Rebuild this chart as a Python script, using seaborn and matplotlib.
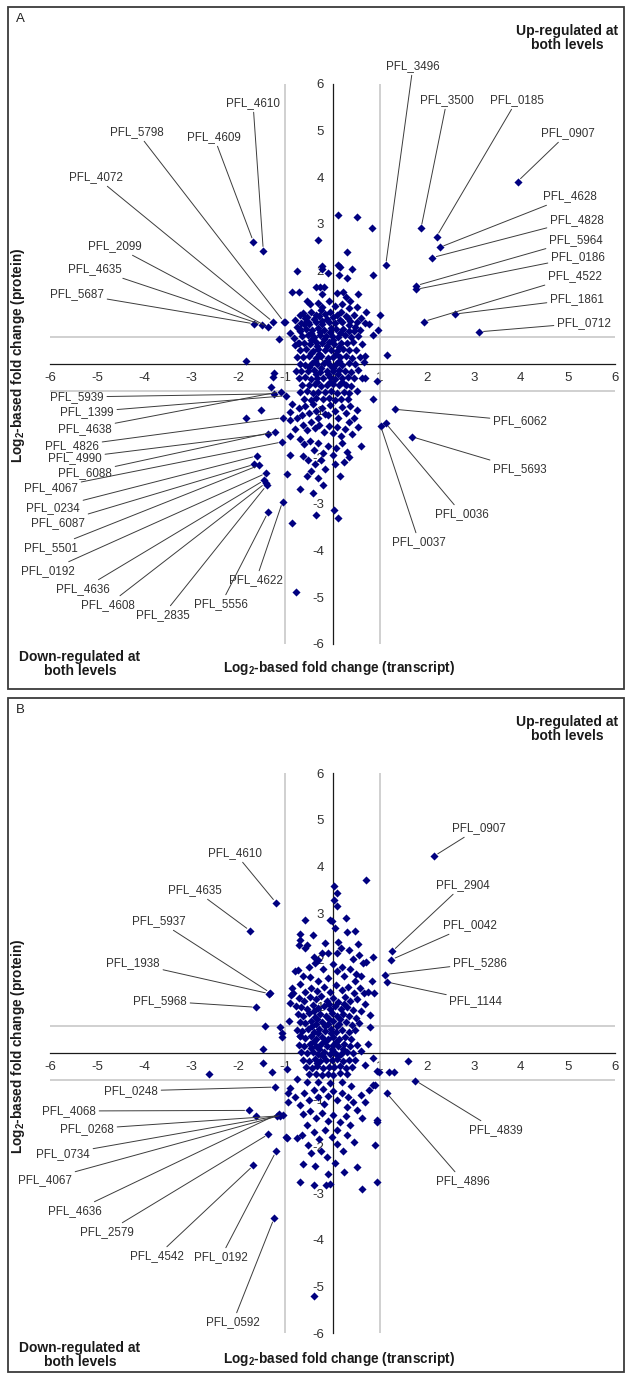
import matplotlib
matplotlib.use("Agg")
import matplotlib.pyplot as plt
from matplotlib.patches import Rectangle
import numpy as np
import seaborn as sns

W, H = 628, 1374
NAVY = "#000080"

# ---------------- panel A ----------------
A_GENES = ["PFL_3496", "PFL_3500", "PFL_0185", "PFL_0907", "PFL_4628", "PFL_4828",
           "PFL_5964", "PFL_0186", "PFL_4522", "PFL_1861", "PFL_0712",
           "PFL_4610", "PFL_4609", "PFL_5798", "PFL_4072", "PFL_2099", "PFL_4635",
           "PFL_5687", "PFL_5939", "PFL_1399", "PFL_4638", "PFL_4826", "PFL_4990",
           "PFL_6088", "PFL_4067", "PFL_0234", "PFL_6087", "PFL_5501", "PFL_0192",
           "PFL_4636", "PFL_4608", "PFL_2835", "PFL_5556", "PFL_4622",
           "PFL_6062", "PFL_5693", "PFL_0036", "PFL_0037"]
A_GENE_X = [1.13, 1.88, 2.21, 3.93, 2.28, 2.12, 1.78, 1.78, 1.94, 2.60, 3.12,
            -1.47, -1.68, -1.03, -1.26, -1.37, -1.49, -1.66, -1.24, -0.99, -1.10,
            -1.05, -1.37, -1.22, -1.07, -1.61, -1.66, -1.56, -1.41, -1.45, -1.42,
            -1.40, -1.37, -1.06, 1.32, 1.69, 1.13, 1.02]
A_GENE_Y = [2.12, 2.91, 2.73, 3.91, 2.50, 2.28, 1.68, 1.60, 0.91, 1.07, 0.69,
            2.43, 2.62, 0.90, 0.90, 0.79, 0.84, 0.86, -0.64, -0.68, -0.59,
            -1.15, -1.50, -1.45, -1.67, -1.97, -2.15, -2.17, -2.34, -2.49, -2.55,
            -2.60, -3.18, -2.95, -0.97, -1.56, -1.27, -1.32]

A_CLOUD = [
    (0.12, 3.20), (0.53, 3.15), (0.83, 2.91), (-0.30, 2.66), (0.30, 2.41), (-0.23, 2.11),
    (-0.22, 2.04), (0.12, 2.12), (0.16, 2.08), (0.41, 2.04), (-0.75, 2.00), (-0.09, 1.95),
    (0.14, 1.90), (0.30, 1.85), (0.86, 1.91), (-0.35, 1.66), (-0.26, 1.66), (-0.19, 1.66),
    (-0.86, 1.54), (-0.72, 1.54), (-0.23, 1.49), (0.09, 1.52), (0.23, 1.54), (0.29, 1.44),
    (0.55, 1.50), (0.37, 1.34), (-0.55, 1.36), (-0.48, 1.28), (-0.30, 1.30), (-0.22, 1.22),
    (-0.08, 1.35), (0.05, 1.25), (0.20, 1.28), (0.35, 1.20), (0.52, 1.22), (0.72, 1.11),
    (1.01, 1.05), (0.97, 0.73), (-1.01, 0.91), (-0.90, 0.67), (-1.13, 0.54),
    (-0.70, 1.05), (-0.62, 1.10), (-0.55, 1.00), (-0.45, 1.12), (-0.35, 1.05), (-0.25, 1.15),
    (-0.15, 1.08), (-0.05, 1.12), (0.10, 1.05), (0.18, 1.12), (0.28, 1.02), (0.45, 1.05),
    (0.60, 0.98), (0.68, 0.88), (0.48, 0.80), (0.38, 0.92), (0.58, 0.72), (0.78, 0.85),
    (0.85, 0.62), (-0.80, 0.95), (-0.75, 0.80), (-0.68, 0.70), (-0.60, 0.85), (-0.52, 0.90),
    (-0.82, 0.55), (-0.72, 0.45),
    (-0.58, 0.98), (-0.40, 0.96), (-0.28, 1.02), (-0.12, 0.97), (0.02, 1.00), (0.15, 0.95),
    (0.32, 0.98), (-0.66, 0.88), (-0.50, 0.85), (-0.36, 0.90), (-0.22, 0.86), (-0.08, 0.91),
    (0.06, 0.87), (0.20, 0.89), (0.36, 0.84), (0.52, 0.90), (-0.70, 0.74), (-0.56, 0.76),
    (-0.44, 0.72), (-0.30, 0.77), (-0.18, 0.73), (-0.04, 0.78), (0.08, 0.74), (0.22, 0.76),
    (0.34, 0.71), (0.46, 0.70), (-0.64, 0.60), (-0.52, 0.62), (-0.40, 0.58), (-0.26, 0.63),
    (-0.14, 0.59), (-0.02, 0.61), (0.12, 0.58), (0.26, 0.62), (0.40, 0.57), (0.55, 0.60),
    (-0.74, 0.44), (-0.60, 0.46), (-0.48, 0.43), (-0.34, 0.48), (-0.22, 0.45), (-0.08, 0.47),
    (0.04, 0.42), (0.18, 0.46), (0.30, 0.44), (0.44, 0.47), (0.62, 0.42), (-0.68, 0.30),
    (-0.56, 0.32), (-0.42, 0.28), (-0.30, 0.33), (-0.16, 0.29), (-0.04, 0.31), (0.10, 0.27),
    (0.22, 0.32), (0.36, 0.29), (0.50, 0.30), (-0.76, 0.16), (-0.62, 0.14), (-0.50, 0.18),
    (-0.36, 0.13), (-0.24, 0.17), (-0.10, 0.12), (0.02, 0.16), (0.16, 0.14), (0.28, 0.18),
    (0.42, 0.12), (0.58, 0.16), (-0.70, 0.01), (-0.58, -0.02), (-0.44, 0.03), (-0.32, -0.01),
    (-0.18, 0.02), (-0.06, -0.03), (0.08, 0.01), (0.20, -0.02), (0.34, 0.03), (0.48, -0.01),
    (0.66, 0.04), (-0.66, -0.14), (-0.52, -0.16), (-0.40, -0.13), (-0.26, -0.17), (-0.12, -0.14),
    (0.00, -0.16), (0.14, -0.13), (0.26, -0.15), (0.40, -0.17), (0.54, -0.12), (-0.72, -0.30),
    (-0.58, -0.28), (-0.46, -0.32), (-0.32, -0.29), (-0.20, -0.31), (-0.06, -0.28), (0.06, -0.33),
    (0.20, -0.30), (0.32, -0.27), (0.46, -0.31), (0.62, -0.29), (-0.64, -0.44), (-0.50, -0.46),
    (-0.38, -0.43), (-0.24, -0.47), (-0.12, -0.45), (0.02, -0.42), (0.14, -0.46), (0.28, -0.44),
    (0.40, -0.48), (-0.68, -0.60), (-0.54, -0.58), (-0.42, -0.62), (-0.30, -0.59), (-0.16, -0.61),
    (-0.04, -0.57), (0.10, -0.62), (0.24, -0.59), (0.36, -0.63), (0.52, -0.58), (-0.60, -0.74),
    (-0.46, -0.77), (-0.34, -0.73), (-0.20, -0.76), (-0.08, -0.72), (0.06, -0.77), (0.18, -0.74),
    (0.32, -0.76), (-0.45, 0.52), (-0.33, 0.38), (-0.19, 0.53), (-0.11, 0.38), (0.00, 0.52),
    (0.14, 0.37), (-0.28, 0.22), (-0.46, 0.23), (0.07, 0.22), (-0.38, 0.07), (-0.12, 0.06),
    (0.14, 0.07), (-0.25, -0.08), (0.00, -0.08), (-0.50, -0.07), (-0.35, -0.22), (-0.10, -0.22),
    (0.12, -0.22), (-0.26, 0.68), (-0.06, 0.68), (0.16, 0.67), (-0.45, 0.66), (-0.33, -0.38),
    (-0.05, -0.38), (0.20, -0.38), (-0.22, 0.93), (0.70, -0.30), (0.68, 0.18), (-0.80, 0.40),
    (-0.78, -0.15),
    (-1.25, -0.20), (-1.26, -0.27), (-1.31, -0.49), (-1.52, -0.99), (-1.83, -1.15), (-1.83, 0.07),
    (1.15, 0.19), (0.95, -0.36), (0.86, -0.74), (0.51, -0.99), (0.55, -1.35), (-0.90, -1.02),
    (-0.90, -1.20), (-0.90, -1.95), (-0.97, -2.35), (-0.69, -2.68), (-0.41, -2.76), (-0.35, -3.23),
    (0.04, -3.13), (0.12, -3.30), (-0.86, -3.40), (-0.77, -4.89),
    (-0.85, -0.85), (-0.72, -0.95), (-0.65, -1.10), (-0.58, -0.90), (-0.50, -1.05), (-0.42, -0.85),
    (-0.35, -1.00), (-0.30, -1.15), (-0.22, -0.95), (-0.15, -1.08), (-0.05, -0.88), (0.05, -1.00),
    (0.12, -1.15), (0.20, -0.92), (0.28, -1.05), (0.38, -0.90), (-0.62, -1.30), (-0.55, -1.42),
    (-0.45, -1.25), (-0.38, -1.38), (-0.28, -1.30), (-0.18, -1.45), (-0.08, -1.32), (0.02, -1.48),
    (0.10, -1.35), (0.18, -1.55), (0.26, -1.40), (0.35, -1.25), (0.42, -1.50), (-0.70, -1.60),
    (-0.60, -1.72), (-0.48, -1.65), (-0.40, -1.85), (-0.30, -1.70), (-0.20, -1.90), (-0.10, -1.75),
    (0.00, -1.95), (0.08, -1.80), (0.20, -1.70), (0.30, -1.88), (-0.52, -2.05), (-0.38, -2.15),
    (-0.25, -2.05), (-0.15, -2.25), (0.05, -2.15), (0.25, -2.10), (0.35, -2.00), (-0.55, -2.40),
    (-0.45, -2.30), (-0.30, -2.45), (-0.62, -1.98), (0.15, -2.40), (-0.20, -2.60), (-0.80, -1.40),
    (-0.75, -1.15), (0.45, -1.15), (0.60, -1.75), (-0.10, -1.10), (-0.90, -1.55),
]

# label text centres, image pixels from top-left (layout only)
A_LABEL_PX = [(413, 66), (447, 100), (517, 100), (568, 133), (570, 196), (577, 220),
              (576, 240), (578, 257), (575, 276), (577, 299), (584, 323),
              (253, 103), (214, 137), (137, 132), (96, 177), (115, 246), (95, 269),
              (77, 294), (77, 397), (87, 412), (85, 429), (72, 446), (75, 458),
              (85, 473), (51, 488), (53, 508), (58, 523), (51, 548), (48, 571),
              (83, 589), (108, 605), (163, 615), (221, 604), (256, 580),
              (520, 421), (520, 469), (462, 514), (419, 542)]

# ---------------- panel B ----------------
B_GENES = ["PFL_0907", "PFL_2904", "PFL_0042", "PFL_5286", "PFL_1144",
           "PFL_4610", "PFL_4635", "PFL_5937", "PFL_1938", "PFL_5968",
           "PFL_0248", "PFL_4068", "PFL_0268", "PFL_0734", "PFL_4067", "PFL_4636",
           "PFL_2579", "PFL_4542", "PFL_0192", "PFL_0592", "PFL_4839", "PFL_4896"]
B_GENE_X = [2.16, 1.27, 1.25, 1.11, 1.16, -1.20, -1.75, -1.32, -1.34, -1.62,
            -1.22, -1.78, -1.18, -1.11, -1.05, -1.14, -1.36, -1.68, -1.20, -1.24,
            1.76, 1.15]
B_GENE_Y = [4.22, 2.18, 2.00, 1.68, 1.52, 3.22, 2.62, 1.29, 1.27, 0.98,
            -0.73, -1.23, -1.35, -1.34, -1.32, -1.30, -1.74, -2.41, -2.11, -3.54,
            -0.59, -0.86]

B_CLOUD = [
    (0.03, 3.58), (0.09, 3.43), (0.03, 3.28), (0.10, 3.15), (0.72, 3.70), (-0.58, 2.85),
    (-0.05, 2.85), (-0.02, 2.82), (0.29, 2.89), (0.05, 2.68), (0.30, 2.60), (0.48, 2.61),
    (-0.70, 2.55), (-0.70, 2.43), (-0.72, 2.32), (-0.42, 2.53), (-0.55, 2.31), (-0.58, 2.25),
    (0.12, 2.37), (0.19, 2.25), (0.55, 2.34), (-0.23, 2.15), (-0.09, 2.15), (0.09, 2.15),
    (-0.40, 2.05), (-0.38, 1.92), (-0.30, 2.00), (0.65, 1.93), (0.72, 1.95), (0.86, 2.05),
    (0.44, 2.01), (-0.74, 1.78), (-0.62, 1.65), (-0.48, 1.62), (-0.85, 1.40), (-0.88, 1.25),
    (-0.90, 1.07), (0.20, 1.85), (0.38, 1.80), (0.48, 1.55), (0.25, 1.65), (0.10, 1.75),
    (0.84, 1.54), (0.75, 1.30), (0.88, 1.29), (0.67, 1.29), (0.79, 0.82), (-0.20, 1.80),
    (-0.10, 1.60), (0.00, 1.90), (-0.30, 1.55), (0.49, 1.70), (0.56, 2.10), (-0.79, 1.75),
    (-0.83, 1.29), (-0.92, 0.69), (-0.15, 2.35), (0.35, 2.20), (-0.50, 1.85), (0.60, 1.65),
    (-0.68, 1.48), (-0.58, 1.30), (-0.45, 1.40), (-0.32, 1.32), (-0.18, 1.42), (-0.05, 1.30),
    (0.08, 1.45), (0.20, 1.35), (0.32, 1.42), (0.45, 1.28), (0.58, 1.40), (-0.72, 1.18),
    (-0.60, 1.12), (-0.48, 1.20), (-0.36, 1.15), (-0.24, 1.22), (-0.12, 1.12), (0.00, 1.18),
    (0.12, 1.10), (0.26, 1.20), (0.38, 1.12), (0.52, 1.15), (0.68, 1.05), (-0.78, 1.00),
    (-0.66, 0.98), (-0.54, 0.95), (-0.42, 1.02), (-0.30, 0.96), (-0.18, 1.00), (-0.06, 0.94),
    (0.06, 1.00), (0.18, 0.95), (0.30, 0.99), (0.44, 0.93), (0.60, 0.90), (-0.74, 0.84),
    (-0.62, 0.80), (-0.50, 0.85), (-0.38, 0.78), (-0.26, 0.84), (-0.14, 0.80), (-0.02, 0.86),
    (0.10, 0.79), (0.22, 0.84), (0.36, 0.80), (0.50, 0.76), (-0.70, 0.66), (-0.58, 0.64),
    (-0.46, 0.68), (-0.34, 0.62), (-0.22, 0.67), (-0.10, 0.63), (0.02, 0.68), (0.14, 0.62),
    (0.28, 0.66), (0.42, 0.60), (0.56, 0.64), (-0.76, 0.50), (-0.64, 0.48), (-0.52, 0.52),
    (-0.40, 0.46), (-0.28, 0.51), (-0.16, 0.47), (-0.04, 0.52), (0.08, 0.46), (0.20, 0.50),
    (0.34, 0.45), (0.48, 0.49), (-0.69, 0.36), (-0.58, 0.33), (-0.46, 0.36), (-0.34, 0.31),
    (-0.22, 0.35), (-0.10, 0.30), (0.02, 0.35), (0.14, 0.31), (0.26, 0.34), (0.40, 0.30),
    (-0.72, 0.18), (-0.60, 0.16), (-0.48, 0.20), (-0.36, 0.15), (-0.24, 0.19), (-0.12, 0.14),
    (0.00, 0.18), (0.12, 0.15), (0.24, 0.19), (0.38, 0.14), (0.52, 0.18), (-0.66, 0.02),
    (-0.54, -0.01), (-0.42, 0.03), (-0.30, -0.02), (-0.18, 0.02), (-0.06, -0.03), (0.06, 0.01),
    (0.18, -0.02), (0.30, 0.03), (0.44, -0.01), (0.60, 0.04), (-0.62, -0.15), (-0.50, -0.17),
    (-0.38, -0.13), (-0.26, -0.18), (-0.14, -0.14), (-0.02, -0.16), (0.10, -0.13), (0.22, -0.17),
    (0.34, -0.14), (0.48, -0.16), (-0.56, -0.30), (-0.44, -0.32), (-0.32, -0.28), (-0.20, -0.33),
    (-0.08, -0.29), (0.04, -0.31), (0.16, -0.28), (0.28, -0.33), (0.42, -0.29), (-0.50, -0.46),
    (-0.36, -0.44), (-0.22, -0.48), (-0.10, -0.45), (0.02, -0.47), (0.16, -0.43), (0.30, -0.46),
    (-0.44, 0.58), (-0.30, 0.42), (-0.16, 0.58), (-0.04, 0.42), (0.10, 0.57), (-0.40, 0.26),
    (-0.16, 0.25), (0.08, 0.24), (-0.28, 0.09), (-0.02, 0.08), (0.22, 0.08), (-0.46, 0.10),
    (-0.32, 0.72), (-0.08, 0.73), (0.16, 0.72), (-0.20, -0.06), (0.12, -0.06), (-0.32, -0.22),
    (-0.40, 0.90), (-0.08, 1.06), (0.24, 1.05),
    (-1.43, 0.58), (-1.11, 0.56), (-1.08, 0.35), (-0.69, 0.36), (-1.47, 0.09), (-1.47, -0.22),
    (-1.28, -0.40), (-0.97, -0.35), (-2.63, -0.45), (-1.08, 0.43), (-0.99, -1.80), (-1.62, -1.34),
    (0.86, -0.11), (0.99, -0.40), (1.20, -0.40), (1.30, -0.40), (1.61, -0.18), (0.95, -0.39),
    (0.85, -0.68), (0.90, -0.68), (-0.39, -5.21), (0.75, 0.20), (0.80, 0.55), (0.70, -0.25),
    (-0.90, -0.76), (-0.94, -0.86), (-0.94, -1.04), (-0.69, -1.12), (-0.80, -0.95), (-0.60, -0.85),
    (-0.50, -1.00), (-0.40, -0.80), (-0.30, -0.95), (-0.20, -0.78), (-0.10, -0.92), (0.00, -0.82),
    (0.10, -1.00), (0.20, -0.86), (0.32, -0.95), (0.44, -1.04), (0.51, -1.22), (0.60, -0.90),
    (0.70, -1.05), (0.78, -0.80), (-0.62, -1.30), (-0.48, -1.25), (-0.36, -1.40), (-0.22, -1.28),
    (-0.10, -1.45), (0.02, -1.32), (0.15, -1.48), (0.28, -1.35), (0.38, -1.55), (0.62, -1.40),
    (0.94, -1.44), (0.95, -1.48), (-0.76, -1.83), (-0.65, -1.76), (-0.97, -1.83), (-0.51, -1.97),
    (-0.40, -1.70), (-0.28, -1.85), (-0.15, -1.65), (-0.02, -1.80), (0.10, -1.95), (0.30, -1.75),
    (0.45, -1.90), (0.91, -1.97), (-0.62, -2.38), (-0.37, -2.42), (-0.11, -2.23), (0.23, -2.10),
    (-0.45, -2.15), (-0.25, -2.10), (0.05, -2.35), (0.51, -2.44), (-0.70, -2.76), (-0.39, -2.82),
    (-0.14, -2.82), (-0.05, -2.80), (0.62, -2.92), (0.94, -2.76), (-0.10, -2.60), (0.25, -2.55),
    (-0.55, -0.62), (-0.30, -0.62), (-0.05, -0.65), (0.20, -0.62), (0.40, -0.70), (-0.75, -0.55),
    (-0.18, -1.10), (0.30, -1.15), (-0.55, -1.55), (0.10, -1.65),
]

B_LABEL_PX = [(479, 828), (463, 885), (470, 925), (480, 963), (476, 1001),
              (235, 853), (195, 890), (159, 921), (133, 963), (160, 1001),
              (131, 1091), (69, 1111), (87, 1129), (63, 1154), (45, 1180), (75, 1211),
              (107, 1232), (157, 1256), (221, 1257), (233, 1322), (496, 1130), (463, 1181)]

sns.set_style("white")
plt.rcParams["font.family"] = ["Liberation Sans", "DejaVu Sans"]
plt.rcParams["axes.unicode_minus"] = False
plt.rcParams["mathtext.fontset"] = "custom"
plt.rcParams["mathtext.rm"] = "Liberation Sans"
plt.rcParams["mathtext.bf"] = "Liberation Sans:bold"


def fx(px):
    return px / W


def fy(py):
    return 1 - py / H


def draw_panel(fig, frame_top, frame_bottom, axes_top, letter, genes, gx, gy, cloud, label_px):
    fig.add_artist(Rectangle((fx(8), fy(frame_bottom)), fx(624) - fx(8), fy(frame_top) - fy(frame_bottom),
                             transform=fig.transFigure, fill=False, edgecolor="#3a3a3a", lw=1.3))
    ax = fig.add_axes([fx(50), fy(axes_top + 560), 565 / W, 560 / H])
    ax.set_xlim(-6, 6)
    ax.set_ylim(-6, 6)
    ax.patch.set_alpha(0)
    for side in ("top", "right"):
        ax.spines[side].set_visible(False)
    for side in ("left", "bottom"):
        ax.spines[side].set_position(("data", 0))
        ax.spines[side].set_color("#1a1a1a")
        ax.spines[side].set_linewidth(0.9)
    ax.set_xticks(range(-6, 7))
    ax.set_yticks(range(-6, 7))
    ax.tick_params(direction="out", length=4, width=0.8, color="#1a1a1a",
                   labelsize=9.5, labelcolor="#303030", pad=2)

    for v in (-1, 1):
        ax.axvline(v, color="#c8c8c8", lw=1.2, zorder=1)
    for v in (-0.585, 0.585):
        ax.axhline(v, color="#c8c8c8", lw=1.2, zorder=1)

    cx, cy = zip(*cloud)
    xs = np.concatenate([np.array(cx), np.array(gx)])
    ys = np.concatenate([np.array(cy), np.array(gy)])
    sns.scatterplot(x=xs, y=ys, marker="D", s=17, color=NAVY, linewidth=0,
                    ax=ax, zorder=3, legend=False)

    for name, x, y, (px, py) in zip(genes, gx, gy, label_px):
        ax.annotate(name, xy=(x, y), xycoords="data",
                    xytext=(px, H - py), textcoords="figure pixels",
                    ha="center", va="center", fontsize=8.4, color="#333333",
                    annotation_clip=False,
                    arrowprops=dict(arrowstyle="-", color="#3c3c3c", lw=0.7,
                                    shrinkA=0, shrinkB=3))

    fig.text(fx(20), fy(frame_top + 12), letter, fontsize=9.5, ha="center", va="center", color="#222222")
    fig.text(fx(567), fy(frame_top + 31), "Up-regulated at\nboth levels", fontsize=10,
             fontweight="bold", ha="center", va="center", linespacing=1.05, color="#1a1a1a")
    fig.text(fx(80), fy(frame_top + 657), "Down-regulated at\nboth levels", fontsize=10,
             fontweight="bold", ha="center", va="center", linespacing=1.05, color="#1a1a1a")
    fig.text(fx(339), fy(frame_top + 661), r"Log$_\mathbf{2}$-based fold change (transcript)",
             fontsize=9.8, fontweight="bold", ha="center", va="center", color="#1a1a1a")
    fig.text(fx(18), fy(frame_top + 348), r"Log$_\mathbf{2}$-based fold change (protein)",
             fontsize=9.8, fontweight="bold", ha="center", va="center", rotation=90, color="#1a1a1a")
    return ax


fig = plt.figure(figsize=(W / 100, H / 100), dpi=100)
fig.patch.set_facecolor("white")
draw_panel(fig, 7, 689, 84, "A", A_GENES, A_GENE_X, A_GENE_Y, A_CLOUD, A_LABEL_PX)
draw_panel(fig, 698, 1372, 773, "B", B_GENES, B_GENE_X, B_GENE_Y, B_CLOUD, B_LABEL_PX)
fig.savefig("out.png", dpi=100)
